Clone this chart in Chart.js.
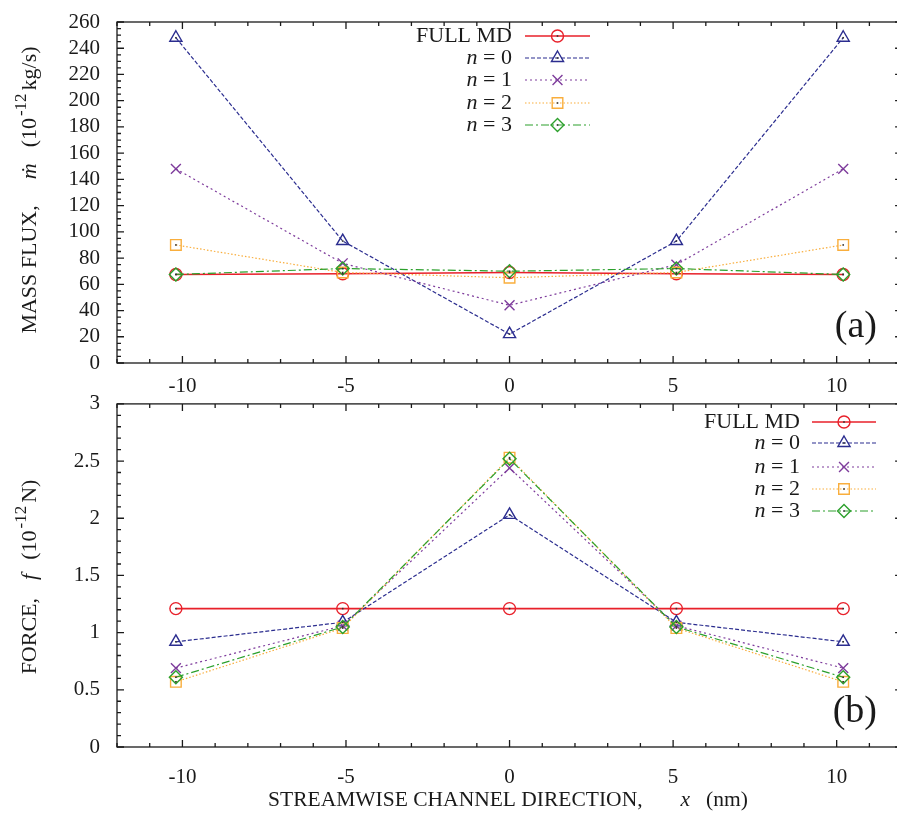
<!DOCTYPE html>
<html>
<head>
<meta charset="utf-8">
<script src="https://cdn.jsdelivr.net/npm/chart.js@4"></script>
<style>
html, body { margin: 0; padding: 0; background: #fff; overflow: hidden; }
#fluxChart { position: absolute; left: 0; top: 0; }
#forceChart { position: absolute; left: 0; top: 395px; }
</style>
</head>
<body>
<canvas id="fluxChart" width="911" height="400"></canvas>
<canvas id="forceChart" width="911" height="426"></canvas>
<script>
// x positions of the samples along the channel (nm)
const xPos = [-10.2, -5.1, 0, 5.1, 10.2]
const seriesNames = ["FULL MD", "n = 0", "n = 1", "n = 2", "n = 3"]

// (a) mass flux, 10^-12 kg/s
const fluxFullMD = [67.5, 68, 69, 68, 67.5]
const fluxN0 = [248, 93, 22, 93, 248]
const fluxN1 = [148, 76, 44, 75, 148]
const fluxN2 = [90, 69, 65, 69, 90]
const fluxN3 = [67.5, 72, 70, 72, 67.5]

// (b) force, 10^-12 N
const forceFullMD = [1.21, 1.21, 1.21, 1.21, 1.21]
const forceN0 = [0.92, 1.09, 2.03, 1.09, 0.92]
const forceN1 = [0.69, 1.06, 2.44, 1.06, 0.69]
const forceN2 = [0.57, 1.04, 2.53, 1.04, 0.57]
const forceN3 = [0.61, 1.05, 2.52, 1.05, 0.61]

const xTicks = [-10, -5, 0, 5, 10]
const fluxTicks = [0, 20, 40, 60, 80, 100, 120, 140, 160, 180, 200, 220, 240, 260]
const forceTicks = [0, 0.5, 1, 1.5, 2, 2.5, 3]

const SERIF = "'Liberation Serif', 'DejaVu Serif', serif"
const styles = [
    { color: "#e8202a", dash: [], point: "circle", radius: 6, width: 1.6 },
    { color: "#2b2d8f", dash: [4, 2], point: "triangle", radius: 7, width: 1.2 },
    { color: "#7e3c9c", dash: [2, 3], point: "crossRot", radius: 7, width: 1.2 },
    { color: "#f9ae3d", dash: [1.5, 2], point: "rect", radius: 7.5, width: 1.2 },
    { color: "#2ca02c", dash: [8, 3, 2, 3], point: "rectRot", radius: 6.5, width: 1.2 }
]

// parts: [text, ""|"i"|"sup"] or [px, "gap"]
function drawRich(ctx, parts, x, y, size, align) {
    const fontOf = p => (p[1] === "i" ? "italic " : "") + (p[1] === "sup" ? Math.round(size * 0.75) : size) + "px " + SERIF
    const widthOf = p => { if (p[1] === "gap") return p[0]; ctx.font = fontOf(p); return ctx.measureText(p[0]).width }
    const total = parts.reduce((s, p) => s + widthOf(p), 0)
    let cx = align === "right" ? x - total : align === "center" ? x - total / 2 : x
    ctx.textAlign = "left"
    ctx.textBaseline = "middle"
    parts.forEach(p => {
        const w = widthOf(p)
        if (p[1] !== "gap") ctx.fillText(p[0], cx, p[1] === "sup" ? y - size * 0.38 : y)
        cx += w
    })
}

const frameTicks = {
    id: "frameTicks",
    afterDatasetsDraw(chart) {
        // small centre dot inside every marker
        const ctx = chart.ctx
        ctx.save()
        ctx.fillStyle = "#333"
        chart.data.datasets.forEach((ds, i) => {
            if (ds.pointStyle === "crossRot") return
            chart.getDatasetMeta(i).data.forEach(pt => ctx.fillRect(pt.x - 0.8, pt.y - 0.8, 1.6, 1.6))
        })
        ctx.restore()
    },
    afterDraw(chart, args, opts) {
        const { ctx, chartArea: a, scales: { x, y } } = chart
        ctx.save()
        ctx.strokeStyle = "#1a1a1a"
        ctx.lineWidth = 1.3
        ctx.beginPath()
        for (let v = -12; v <= 12; v += 1) {
            const px = x.getPixelForValue(v)
            const len = v % 5 === 0 ? 7 : 4
            ctx.moveTo(px, a.bottom); ctx.lineTo(px, a.bottom - len)
            ctx.moveTo(px, a.top); ctx.lineTo(px, a.top + len)
        }
        const n = Math.round((y.max - y.min) / opts.minor)
        for (let i = 0; i <= n; i++) {
            const v = y.min + i * opts.minor
            const py = y.getPixelForValue(v)
            const len = i % opts.per === 0 ? 7 : 4
            ctx.moveTo(a.left, py); ctx.lineTo(a.left + len, py)
            ctx.moveTo(a.right, py); ctx.lineTo(a.right - len, py)
        }
        ctx.stroke()
        ctx.strokeRect(a.left, a.top, a.right - a.left, a.bottom - a.top)

        ctx.fillStyle = "#1a1a1a"
        ctx.font = "38px " + SERIF
        ctx.textAlign = "right"
        ctx.textBaseline = "middle"
        ctx.fillText(opts.panel, 877, opts.panelY)

        ctx.save()
        ctx.translate(30, opts.titleY)
        ctx.rotate(-Math.PI / 2)
        drawRich(ctx, opts.title, 0, 0, 22, "center")
        ctx.restore()
        if (opts.xTitle) {
            drawRich(ctx, opts.xTitle, 508, opts.xTitleY, 21.5, "center")
        }
        ctx.restore()
    }
}

const keyBox = {
    id: "keyBox",
    afterDraw(chart, args, opts) {
        const ctx = chart.ctx
        ctx.save()
        chart.data.datasets.forEach((ds, i) => {
            const yy = opts.rows[i]
            ctx.fillStyle = "#1a1a1a"
            const label = seriesNames[i]
            const parts = label.startsWith("n") ? [["n", "i"], [label.slice(1), ""]] : [[label, ""]]
            drawRich(ctx, parts, opts.textRight, yy, 22, "right")
            ctx.strokeStyle = ds.borderColor
            ctx.lineWidth = ds.borderWidth
            ctx.setLineDash(ds.borderDash)
            ctx.beginPath()
            ctx.moveTo(opts.x0, yy); ctx.lineTo(opts.x1, yy)
            ctx.stroke()
            ctx.setLineDash([])
            ctx.lineWidth = ds.pointBorderWidth
            ctx.fillStyle = "rgba(0,0,0,0)"
            const mx = (opts.x0 + opts.x1) / 2
            Chart.helpers.drawPoint(ctx, { pointStyle: ds.pointStyle, radius: ds.pointRadius, rotation: 0, borderWidth: ds.pointBorderWidth }, mx, yy)
            if (ds.pointStyle !== "crossRot") {
                ctx.fillStyle = "#333"
                ctx.fillRect(mx - 0.8, yy - 0.8, 1.6, 1.6)
            }
        })
        ctx.restore()
    }
}

function makeDatasets(series) {
    return series.map((vals, i) => ({
        label: seriesNames[i],
        data: xPos.map((x, k) => ({ x: x, y: vals[k] })),
        borderColor: styles[i].color,
        backgroundColor: "rgba(0,0,0,0)",
        pointBorderColor: styles[i].color,
        pointBackgroundColor: "rgba(0,0,0,0)",
        borderWidth: styles[i].width,
        borderDash: styles[i].dash,
        pointStyle: styles[i].point,
        pointRadius: styles[i].radius,
        pointBorderWidth: 1.4,
        tension: 0,
        order: 4 - i
    }))
}

function makeOptions(cfg) {
    return {
        responsive: false,
        animation: false,
        layout: { padding: { top: cfg.padTop, right: 0, left: 0, bottom: 0 } },
        plugins: {
            legend: { display: false },
            tooltip: { enabled: false },
            frameTicks: cfg.frame,
            keyBox: cfg.key
        },
        scales: {
            x: {
                type: "linear", min: -12, max: 12,
                grid: { display: false }, border: { display: false },
                afterBuildTicks: s => { s.ticks = xTicks.map(v => ({ value: v })) },
                afterFit: s => { s.height = cfg.xHeight },
                ticks: { autoSkip: false, maxRotation: 0, padding: cfg.xPad, color: "#1a1a1a", font: { family: SERIF, size: 21 }, callback: v => String(v) }
            },
            y: {
                type: "linear", min: cfg.yMin, max: cfg.yMax,
                grid: { display: false }, border: { display: false },
                afterBuildTicks: s => { s.ticks = cfg.yTicks.map(v => ({ value: v })) },
                afterFit: s => { s.width = 117; s.paddingTop = 0; s.paddingBottom = 0 },
                ticks: { autoSkip: false, padding: 9, color: "#1a1a1a", font: { family: SERIF, size: 21 }, callback: v => String(v) }
            }
        }
    }
}

new Chart(document.getElementById("fluxChart"), {
    type: "line",
    data: { datasets: makeDatasets([fluxFullMD, fluxN0, fluxN1, fluxN2, fluxN3]) },
    options: makeOptions({
        padTop: 22, xHeight: 37, xPad: 3, yMin: 0, yMax: 260, yTicks: fluxTicks,
        frame: {
            minor: 5, per: 4, panel: "(a)", panelY: 327, titleY: 190,
            title: [["MASS FLUX,", ""], [26, "gap"], ["ṁ", "i"], [16, "gap"], ["(10", ""], [2, "gap"], ["-12", "sup"], [3, "gap"], ["kg/s)", ""]]
        },
        key: { textRight: 512, x0: 525, x1: 590, rows: [36, 58, 80, 103, 125] }
    }),
    plugins: [frameTicks, keyBox]
})

new Chart(document.getElementById("forceChart"), {
    type: "line",
    data: { datasets: makeDatasets([forceFullMD, forceN0, forceN1, forceN2, forceN3]) },
    options: makeOptions({
        padTop: 3, xHeight: 74, xPad: 10, yMin: 0, yMax: 3, yTicks: forceTicks,
        frame: {
            minor: 0.1, per: 5, panel: "(b)", panelY: 317, titleY: 182,
            title: [["FORCE,", ""], [18, "gap"], ["f", "i"], [14, "gap"], ["(10", ""], [2, "gap"], ["-12", "sup"], [3, "gap"], ["N)", ""]],
            xTitle: [["STREAMWISE CHANNEL DIRECTION,", ""], [38, "gap"], ["x", "i"], [16, "gap"], ["(nm)", ""]],
            xTitleY: 405
        },
        key: { textRight: 800, x0: 812, x1: 876, rows: [27, 48, 72, 94, 116] }
    }),
    plugins: [frameTicks, keyBox]
})
</script>
</body>
</html>
